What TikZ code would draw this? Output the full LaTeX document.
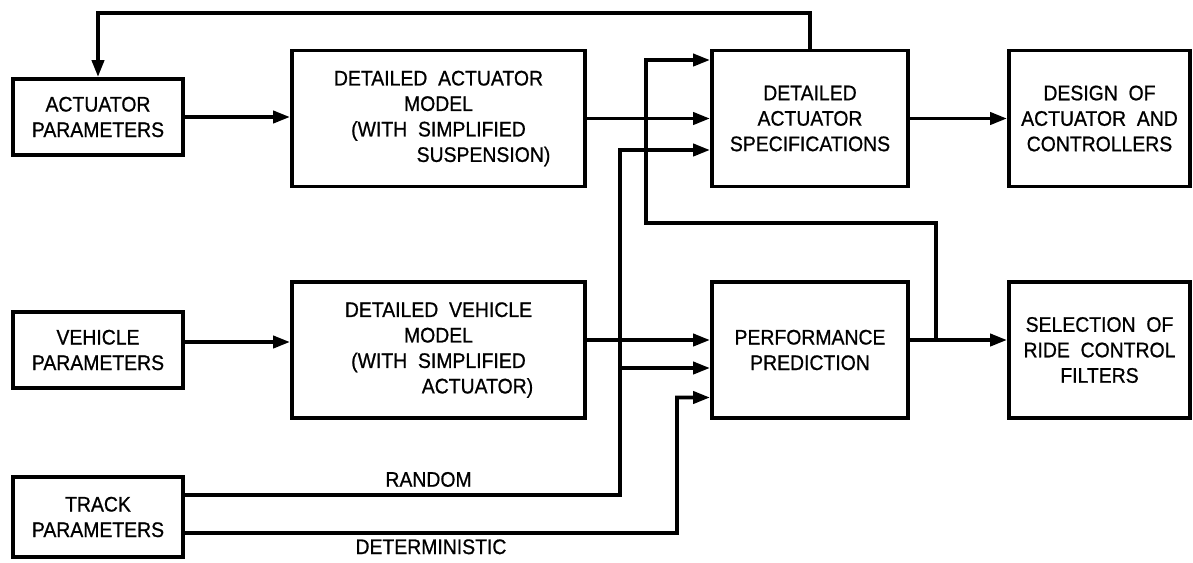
\documentclass[tikz,border=0pt]{standalone}
\usepackage{fontspec}
\setmainfont{Liberation Sans}[FakeStretch=0.92, FakeBold=0.8]
\usepackage{xcolor}
\usetikzlibrary{arrows.meta,positioning}

\begin{document}
\begin{tikzpicture}[x=0.02cm, y=-0.02cm,
    every node/.style={font=\fontsize{12}{14.5}\selectfont, align=center},
    blk/.style={draw, line width=2.2pt, inner sep=0pt},
    side/.style={blk, minimum width=3.4cm, minimum height=1.52cm},
    wide/.style={blk, minimum width=5.86cm, minimum height=2.72cm},
    spec/.style={blk, minimum width=3.92cm, minimum height=2.72cm},
    outb/.style={blk, minimum width=3.62cm, minimum height=2.72cm},
    wire/.style={line width=2.2pt},
    arr/.style={wire, -{Triangle[length=0.34cm, width=0.24cm]}},
    lbl/.style={inner sep=0.5pt}
]
\useasboundingbox (0,0) rectangle (1193,562);

\node[side] (ap) at (98,117) {ACTUATOR\\PARAMETERS};
\node[side] (vp) at (98,350) {VEHICLE\\PARAMETERS};
\node[side, minimum height=1.6cm] (trk) at (98,517) {TRACK\\PARAMETERS};
\node[wide] (dam) at (438.5,118.5) {DETAILED\ \ ACTUATOR\\MODEL\\(WITH\ \ SIMPLIFIED\hspace*{0.5cm}\\\hspace*{1.8cm}SUSPENSION)};
\node[wide] (dvm) at (438.5,350) {DETAILED\ \ VEHICLE\\MODEL\\(WITH\ \ SIMPLIFIED\hspace*{0.5cm}\\\hspace*{1.56cm}ACTUATOR)};
\node[spec] (das) at (810,118.5) {DETAILED\\ACTUATOR\\SPECIFICATIONS};
\node[spec] (pp) at (810,350) {PERFORMANCE\\PREDICTION};
\node[outb] (dsn) at (1099.5,118.5) {DESIGN\ \ OF\\ACTUATOR\ \ AND\\CONTROLLERS};
\node[outb] (sel) at (1099.5,350) {SELECTION\ \ OF\\RIDE\ \ CONTROL\\FILTERS};

\coordinate (fb) at (98,13);
\coordinate (jn) at (936,340);
\coordinate (lp) at (646,223);
\coordinate (rn) at (620,495);
\coordinate (rb) at (620,368);
\coordinate (dt) at (677,533);

\draw[arr] (ap.east) -- (ap.east -| dam.west);
\draw[arr] (dam.east) -- (das.west);
\draw[arr] (das.east) -- (dsn.west);
\draw[arr] (das.north) |- (fb) -- (ap.north);
\draw[arr] ([yshift=0.16cm]vp.east) -- ([yshift=0.16cm]vp.east -| dvm.west);
\draw[arr] ([yshift=0.2cm]dvm.east) -- ([yshift=0.2cm]dvm.east -| pp.west);
\draw[arr] ([yshift=0.2cm]pp.east) -- ([yshift=0.2cm]pp.east -| sel.west);
\draw[arr] (jn) |- (lp) |- ([yshift=1.17cm]das.west);
\draw[arr] ([yshift=0.44cm]trk.east) -- node[lbl, above=3pt, pos=0.56] {RANDOM} (rn) |- ([yshift=-0.63cm]das.west);
\draw[arr] (rb) -- (rb -| pp.west);
\draw[arr] ([yshift=-0.32cm]trk.east) -- node[lbl, below=2pt] {DETERMINISTIC} (dt) |- ([yshift=-0.95cm]pp.west);
\end{tikzpicture}
\end{document}
